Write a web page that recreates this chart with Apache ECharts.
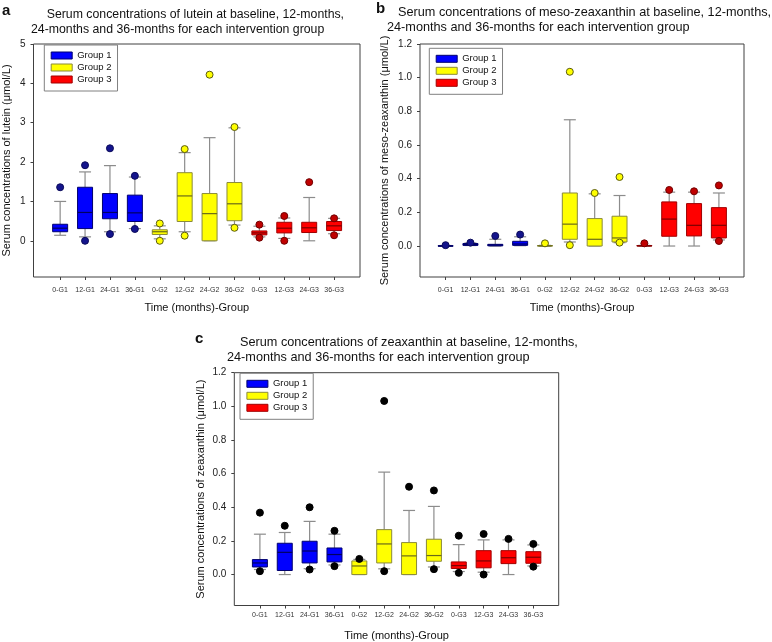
<!DOCTYPE html>
<html>
<head>
<meta charset="utf-8">
<script src="https://cdn.jsdelivr.net/npm/echarts@6/dist/echarts.min.js"></script>
<style>
html,body{margin:0;padding:0;background:#fff;}
#chart{width:772px;height:642px;}
</style>
</head>
<body>
<div id="chart"></div>
<script>
// ---------- data ----------
const categories = ['0-G1','12-G1','24-G1','36-G1','0-G2','12-G2','24-G2','36-G2','0-G3','12-G3','24-G3','36-G3'];
const groupNames = ['Group 1','Group 2','Group 3'];
const groupOfCategory = [0,0,0,0,1,1,1,1,2,2,2,2];

// [lower whisker, Q1, median, Q3, upper whisker] per category
const luteinBoxes = [
  [0.14,0.23,0.32,0.42,1.00],
  [0.10,0.31,0.72,1.36,1.75],
  [0.23,0.56,0.72,1.20,1.91],
  [0.31,0.49,0.71,1.16,1.62],
  [0.05,0.16,0.23,0.28,0.38],
  [0.23,0.49,1.14,1.73,2.24],
  [0.00,0.00,0.69,1.20,2.62],
  [0.40,0.51,0.94,1.48,2.87],
  [0.10,0.15,0.20,0.25,0.37],
  [0.06,0.20,0.32,0.47,0.58],
  [0.00,0.21,0.33,0.47,1.10],
  [0.18,0.26,0.38,0.49,0.57]
];
const luteinOutliers = [[1.36],[1.92,0.0],[2.35,0.17],[1.65,0.30],[0.44,0.0],[2.33,0.13],[4.22],[2.89,0.33],[0.41,0.08],[0.63,0.0],[1.49],[0.57,0.14]];

const mesoBoxes = [
  [0.000,0.000,0.000,0.002,0.003],
  [0.003,0.004,0.008,0.015,0.018],
  [0.000,0.001,0.006,0.010,0.040],
  [0.002,0.004,0.012,0.028,0.055],
  [0.000,0.000,0.001,0.003,0.004],
  [0.024,0.040,0.130,0.315,0.750],
  [0.000,0.000,0.040,0.163,0.310],
  [0.020,0.024,0.048,0.177,0.300],
  [0.000,0.000,0.001,0.003,0.004],
  [0.000,0.058,0.160,0.262,0.320],
  [0.000,0.060,0.123,0.252,0.320],
  [0.036,0.048,0.123,0.228,0.315]
];
const mesoOutliers = [[0.005],[0.02],[0.06],[0.068],[0.016],[1.035,0.005],[0.315],[0.41,0.02],[0.016],[0.333],[0.325],[0.36,0.03]];

const zeaBoxes = [
  [0.030,0.045,0.069,0.089,0.240],
  [0.000,0.024,0.132,0.186,0.250],
  [0.035,0.069,0.140,0.198,0.316],
  [0.057,0.075,0.119,0.158,0.240],
  [0.000,0.000,0.051,0.081,0.090],
  [0.034,0.069,0.182,0.267,0.609],
  [0.000,0.000,0.111,0.190,0.381],
  [0.045,0.079,0.113,0.210,0.405],
  [0.018,0.036,0.053,0.075,0.178],
  [0.014,0.040,0.081,0.142,0.206],
  [0.000,0.065,0.100,0.142,0.206],
  [0.051,0.067,0.103,0.136,0.176]
];
const zeaOutliers = [[0.368,0.02],[0.29],[0.40,0.03],[0.26,0.05],[0.093],[1.032,0.02],[0.522],[0.50,0.032],[0.231,0.01],[0.241,0.0],[0.212],[0.182,0.047]];

const luteinTicks = [0,1,2,3,4,5];
const fracTicks = [0,0.2,0.4,0.6,0.8,1.0,1.2];
const xTickIdx = [0,1,2,3,4,5,6,7,8,9,10,11];

// ---------- styles ----------
const FONT = 'Liberation Sans, Arial, sans-serif';
const boxStyles = [
  {fill:'#0000ff', border:'#00006e', median:'#000060'},
  {fill:'#ffff00', border:'#8a8a3a', median:'#6a6a1a'},
  {fill:'#ff0000', border:'#a00000', median:'#7a0000'}
];
const outColored = [
  {fill:'#14148c', border:'#0a0a5a'},
  {fill:'#ffff00', border:'#5a5a10'},
  {fill:'#c00000', border:'#700000'}
];
const outBlack = [
  {fill:'#000000', border:'#000000'},
  {fill:'#000000', border:'#000000'},
  {fill:'#000000', border:'#000000'}
];

function makeRenderer(st) {
  return function (params, api) {
    const x = api.value(0);
    const pMin = api.coord([x, api.value(1)]);
    const pQ1 = api.coord([x, api.value(2)]);
    const pMed = api.coord([x, api.value(3)]);
    const pQ3 = api.coord([x, api.value(4)]);
    const pMax = api.coord([x, api.value(5)]);
    const cx = pMin[0];
    const hw = 7.5, cw = 6;
    const ws = {stroke:'#8c8c8c', lineWidth:1.2};
    return {type:'group', children:[
      {type:'line', shape:{x1:cx,y1:pMax[1],x2:cx,y2:pQ3[1]}, style:ws},
      {type:'line', shape:{x1:cx,y1:pQ1[1],x2:cx,y2:pMin[1]}, style:ws},
      {type:'line', shape:{x1:cx-cw,y1:pMax[1],x2:cx+cw,y2:pMax[1]}, style:ws},
      {type:'line', shape:{x1:cx-cw,y1:pMin[1],x2:cx+cw,y2:pMin[1]}, style:ws},
      {type:'rect', shape:{x:cx-hw,y:pQ3[1],width:2*hw,height:Math.max(pQ1[1]-pQ3[1],0.5)}, style:{fill:st.fill, stroke:st.border, lineWidth:1}},
      {type:'line', shape:{x1:cx-hw,y1:pMed[1],x2:cx+hw,y2:pMed[1]}, style:{stroke:st.median, lineWidth:1.2}}
    ]};
  };
}

const panels = [
  {boxes:luteinBoxes, outliers:luteinOutliers, outStyle:outColored,
   grid:{left:33.5, top:44, width:326.5, height:233},
   xMin:-1.07, xMax:12.04, yMin:-0.92, yMax:5, yTicks:luteinTicks, yDec:0,
   yName:'Serum concentrations of lutein (μmol/L)', yNameGap:21, xNameGap:25.5, xLabelMargin:9.5,
   legend:{left:44.3, top:45}},
  {boxes:mesoBoxes, outliers:mesoOutliers, outStyle:outColored,
   grid:{left:420, top:44, width:324, height:233},
   xMin:-1.03, xMax:12.01, yMin:-0.184, yMax:1.2, yTicks:fracTicks, yDec:1,
   yName:'Serum concentrations of meso-zeaxanthin (μmol/L)', yNameGap:29.5, xNameGap:25.5, xLabelMargin:9.5,
   legend:{left:429.3, top:48.3}},
  {boxes:zeaBoxes, outliers:zeaOutliers, outStyle:outBlack,
   grid:{left:234.3, top:372.7, width:324.4, height:233.3},
   xMin:-1.03, xMax:12.02, yMin:-0.184, yMax:1.2, yTicks:fracTicks, yDec:1,
   yName:'Serum concentrations of zeaxanthin (μmol/L)', yNameGap:27.5, xNameGap:24.5, xLabelMargin:6.5,
   legend:{left:240, top:373.3}}
];

const grids = [], xAxes = [], yAxes = [], series = [], legends = [];
panels.forEach(function (p, pi) {
  grids.push(Object.assign({show:true, borderColor:'#404040', borderWidth:1, backgroundColor:'transparent'}, p.grid));
  xAxes.push({
    type:'value', gridIndex:pi, min:p.xMin, max:p.xMax, position:'bottom',
    name:'Time (months)-Group', nameLocation:'middle', nameGap:p.xNameGap,
    nameTextStyle:{fontSize:11, color:'#111', fontFamily:FONT},
    axisLine:{show:false, onZero:false}, splitLine:{show:false},
    axisTick:{show:true, length:3, customValues:xTickIdx, lineStyle:{color:'#404040'}},
    axisLabel:{customValues:xTickIdx, fontSize:7, color:'#333', margin:p.xLabelMargin, fontFamily:FONT,
      formatter:function (v) { return categories[Math.round(v)]; }}
  });
  yAxes.push({
    type:'value', gridIndex:pi, min:p.yMin, max:p.yMax, position:'left',
    name:p.yName, nameLocation:'middle', nameGap:p.yNameGap,
    nameTextStyle:{fontSize:11, color:'#111', fontFamily:FONT},
    axisLine:{show:false, onZero:false}, splitLine:{show:false},
    axisTick:{show:true, length:3, customValues:p.yTicks, lineStyle:{color:'#404040'}},
    axisLabel:{customValues:p.yTicks, fontSize:10, color:'#222', margin:8, fontFamily:FONT,
      formatter:function (v) { return Number(v).toFixed(p.yDec); }}
  });
  for (let g = 0; g < 3; g++) {
    const boxData = [];
    const outData = [];
    categories.forEach(function (c, i) {
      if (groupOfCategory[i] !== g) return;
      boxData.push([i].concat(p.boxes[i]));
      p.outliers[i].forEach(function (v) { outData.push([i, v]); });
    });
    series.push({
      type:'custom', name:groupNames[g], xAxisIndex:pi, yAxisIndex:pi,
      itemStyle:{color:boxStyles[g].fill},
      renderItem:makeRenderer(boxStyles[g]),
      encode:{x:0, y:[1,2,3,4,5]},
      data:boxData, silent:true, animation:false
    });
    series.push({
      type:'scatter', name:groupNames[g] + ' outliers', xAxisIndex:pi, yAxisIndex:pi,
      symbol:'circle', symbolSize:7, z:3,
      itemStyle:{color:p.outStyle[g].fill, borderColor:p.outStyle[g].border, borderWidth:1, opacity:1},
      data:outData, silent:true, animation:false
    });
  }
  legends.push({
    left:p.legend.left, top:p.legend.top, orient:'vertical',
    icon:'rect', itemWidth:21, itemHeight:7, itemGap:1, itemTextGap:5.7,
    padding:[5,6,6,6.4], borderColor:'#808080', borderWidth:1, backgroundColor:'#fff',
    selectedMode:false,
    textStyle:{fontSize:9.5, lineHeight:11, color:'#111', fontFamily:FONT},
    data:groupNames.map(function (n, g) {
      return {name:n, itemStyle:{color:boxStyles[g].fill, borderColor:boxStyles[g].border, borderWidth:1}};
    })
  });
});

function t(text, left, top, size, bold) {
  return {text:text, left:left, top:top, padding:0,
    textStyle:{fontSize:size, fontWeight:bold ? 'bold' : 'normal', color:'#111', fontFamily:FONT}};
}
const titles = [
  t('a', 2, 3, 15, true),
  t('Serum concentrations of lutein at baseline, 12-months,', 46.7, 8.5, 12.3),
  t('24-months and 36-months for each intervention group', 31, 23.5, 12.3),
  t('b', 376, 1, 15, true),
  t('Serum concentrations of meso-zeaxanthin at baseline, 12-months,', 398, 6, 12.7),
  t('24-months and 36-months for each intervention group', 387, 21, 12.7),
  t('c', 195, 331, 15, true),
  t('Serum concentrations of zeaxanthin at baseline, 12-months,', 240, 336, 12.7),
  t('24-months and 36-months for each intervention group', 227, 351, 12.7)
];

const chart = echarts.init(document.getElementById('chart'), null, {renderer:'canvas'});
chart.setOption({
  backgroundColor:'#fff',
  animation:false,
  textStyle:{fontFamily:FONT},
  title:titles,
  legend:legends,
  grid:grids,
  xAxis:xAxes,
  yAxis:yAxes,
  series:series
});
</script>
</body>
</html>
